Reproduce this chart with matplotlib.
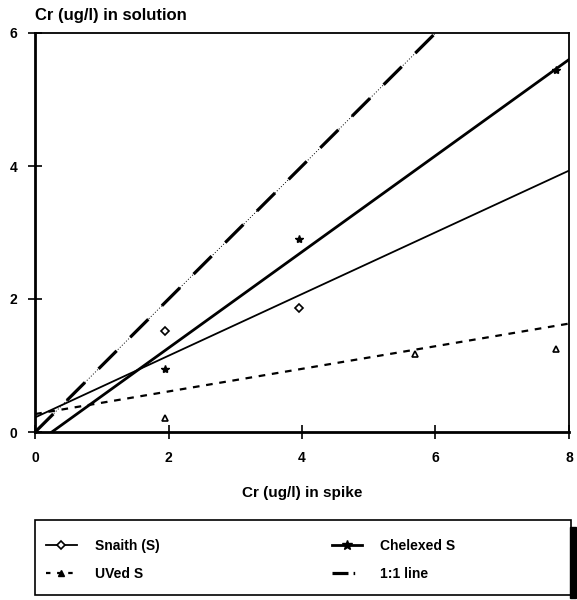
import matplotlib
matplotlib.use('Agg')
import matplotlib.pyplot as plt
from matplotlib.lines import Line2D
from matplotlib.patches import Rectangle

plt.rcParams['font.family'] = ['Liberation Sans', 'DejaVu Sans']
plt.rcParams['font.weight'] = 'bold'

snaith_x = [1.95, 3.95]
snaith_y = [1.52, 1.86]
chelex_x = [1.95, 3.95, 7.8]
chelex_y = [0.95, 2.9, 5.44]
uved_x = [1.95, 5.7, 7.8]
uved_y = [0.21, 1.18, 1.25]

# fitted lines (end points)
snaith_fit_x = [0.0, 8.0]
snaith_fit_y = [0.22, 3.93]
chelex_fit_x = [0.25, 8.0]
chelex_fit_y = [0.0, 5.6]
uved_fit_x = [0.0, 8.0]
uved_fit_y = [0.27, 1.63]
one_x = [0.0, 6.0]
one_y = [0.0, 6.0]

xticks = [0, 2, 4, 6, 8]
yticks = [0, 2, 4, 6]

fig = plt.figure(figsize=(5.77, 6.0), dpi=100)
ax = fig.add_axes([0.061, 0.28, 0.925, 0.665])

# 1:1 line: thin dotted underneath, thick long dashes on top
ax.plot(one_x, one_y, color='black', lw=0.7, linestyle=(0, (1, 2)))
ax.plot(one_x, one_y, color='black', lw=2.3, linestyle=(0, (8, 6)))
ax.plot(chelex_fit_x, chelex_fit_y, color='black', lw=2.0)
ax.plot(snaith_fit_x, snaith_fit_y, color='black', lw=1.3)
ax.plot(uved_fit_x, uved_fit_y, color='black', lw=1.6, linestyle=(0, (3, 3)))

ax.plot(snaith_x, snaith_y, linestyle='none', marker='D', ms=4,
        mfc='white', mec='black', mew=1.2)
ax.plot(chelex_x, chelex_y, linestyle='none', marker='*', ms=6,
        color='black')
ax.plot(uved_x, uved_y, linestyle='none', marker='^', ms=5,
        mfc='white', mec='black', mew=1.2)

ax.set_xlim(0, 8)
ax.set_ylim(0, 6)
ax.set_xticks(xticks)
ax.set_yticks(yticks)
ax.tick_params(direction='inout', length=10, width=1.2, labelsize=10)
ax.tick_params(axis='x', pad=9)
ax.tick_params(axis='y', pad=8)
for lab in ax.get_xticklabels() + ax.get_yticklabels():
    lab.set_fontweight('bold')
ax.spines['left'].set_linewidth(2.0)
ax.spines['bottom'].set_linewidth(2.0)
ax.spines['top'].set_linewidth(1.3)
ax.spines['right'].set_linewidth(1.3)

ax.set_xlabel('Cr (ug/l) in spike', fontsize=11, fontweight='bold',
              labelpad=15)
ax.text(0.0, 1.025, 'Cr (ug/l) in solution', transform=ax.transAxes,
        fontsize=12, fontweight='bold', ha='left', va='bottom')

h_snaith = Line2D([], [], color='black', lw=1.3, marker='D', ms=4,
                  mfc='white', mec='black', mew=1.2)
h_uved = Line2D([], [], color='black', lw=1.6, linestyle=(0, (2, 3)),
                marker='^', ms=5)
h_chelex = Line2D([], [], color='black', lw=2.0, marker='*', ms=7)
h_one = Line2D([], [], color='black', lw=2.3,
               linestyle=(0, (5, 1.6, 0.5, 6)))

# legend box drawn by hand, entries placed inside it
fig.patches.append(Rectangle((0.061, 0.008), 0.928, 0.125,
                             transform=fig.transFigure, fill=False,
                             edgecolor='black', lw=1.2))
fig.patches.append(Rectangle((0.988, 0.003), 0.011, 0.118,
                             transform=fig.transFigure, color='black'))

leg = fig.legend([h_snaith, h_uved, h_chelex, h_one],
                 ['Snaith (S)', 'UVed S', 'Chelexed S', '1:1 line'],
                 ncol=2, loc='center left',
                 bbox_to_anchor=(0.080, 0.067),
                 borderaxespad=0, frameon=False,
                 handlelength=2.2, handletextpad=1.3, labelspacing=0.97,
                 columnspacing=12.4, borderpad=0,
                 prop={'weight': 'bold', 'size': 10})

fig.savefig('out.png', dpi=100)
